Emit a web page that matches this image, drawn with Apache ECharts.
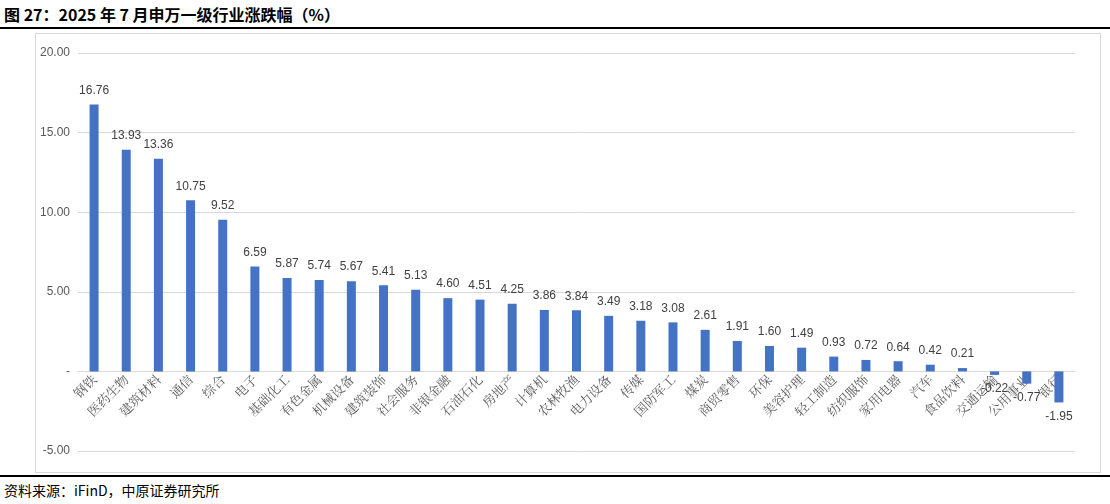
<!DOCTYPE html>
<html><head><meta charset="utf-8">
<script src="https://cdn.jsdelivr.net/npm/echarts@6/dist/echarts.min.js"></script>
<style>
body{margin:0;background:#fff;font-family:"Noto Sans CJK SC",sans-serif}
#title{position:absolute;left:4px;top:2px;font-size:16px;font-weight:bold;color:#000}
#tl{position:absolute;left:0;top:27px;width:1110px;height:2px;background:#000}
#box{position:absolute;left:35px;top:33px;width:1064px;height:438px;border:1px solid #d9d9d9}
#bl{position:absolute;left:0;top:475px;width:1110px;height:2px;background:#000}
#src{position:absolute;left:4px;top:480px;font-size:14px;color:#000}
#root{position:absolute;left:0;top:0;width:1110px;height:504px}
</style></head><body>
<div id="title">图 27：2025 年 7 月申万一级行业涨跌幅（%）</div>
<div id="tl"></div><div id="box"></div><div id="bl"></div>
<div id="src">资料来源：iFinD，中原证券研究所</div>
<div id="root"></div>
<script>
const categories = ['钢铁','医药生物','建筑材料','通信','综合','电子','基础化工','有色金属','机械设备','建筑装饰','社会服务','非银金融','石油石化','房地产','计算机','农林牧渔','电力设备','传媒','国防军工','煤炭','商贸零售','环保','美容护理','轻工制造','纺织服饰','家用电器','汽车','食品饮料','交通运输','公用事业','银行'];
const values = [16.76,13.93,13.36,10.75,9.52,6.59,5.87,5.74,5.67,5.41,5.13,4.60,4.51,4.25,3.86,3.84,3.49,3.18,3.08,2.61,1.91,1.60,1.49,0.93,0.72,0.64,0.42,0.21,-0.22,-0.77,-1.95];
const yTicks = {min:-5, max:20, interval:5};

const chart = echarts.init(document.getElementById('root'));
chart.setOption({
  animation:false,
  grid:{left:78,right:35,top:53,bottom:53},
  xAxis:{type:'category',data:categories,
    axisLine:{onZero:true,lineStyle:{color:'#d9d9d9'}},axisTick:{show:false},
    axisLabel:{rotate:45,interval:0,color:'#595959',fontSize:13,fontFamily:'"Noto Serif CJK SC","Noto Sans CJK SC",serif',margin:-74}},
  yAxis:{type:'value',min:yTicks.min,max:yTicks.max,interval:yTicks.interval,
    axisLine:{show:false},axisTick:{show:false},
    splitLine:{lineStyle:{color:'#d9d9d9'}},
    axisLabel:{color:'#595959',fontSize:12,formatter:v=>v===0?'-':v.toFixed(2)}},
  series:[{type:'bar',data:values.map(v=>({value:v,label:{position:v<0?'bottom':'top'}})),barWidth:9,itemStyle:{color:'#4472C4'},
    label:{show:true,color:'#404040',fontSize:12,formatter:p=>p.value.toFixed(2),distance:8}}]
});
</script></body></html>
